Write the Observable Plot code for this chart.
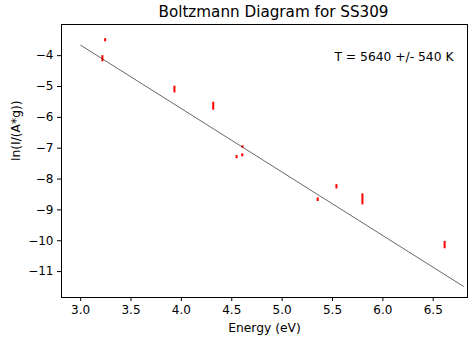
<!DOCTYPE html>
<html>
<head>
<meta charset="utf-8">
<script src="https://cdn.jsdelivr.net/npm/d3@7"></script>
<script src="https://cdn.jsdelivr.net/npm/@observablehq/plot@0.6"></script>
<style>
  html, body { margin: 0; padding: 0; background: #fff; }
</style>
</head>
<body>
<div id="chart"></div>
<script>
// Line energies (eV)
const energy = [3.216, 3.243, 3.931, 4.316, 4.548, 4.604, 4.607, 5.353, 5.539, 5.797, 6.613];
// ln(I/(A*g)) values
const lnValue = [-4.10, -3.50, -5.10, -5.64, -7.29, -7.23, -6.96, -8.67, -8.25, -8.66, -10.14];
// error half-widths
const lnError = [0.10, 0.05, 0.11, 0.13, 0.05, 0.05, 0.04, 0.06, 0.07, 0.18, 0.12];

// fitted line endpoints
const fitEnergy = [3.0, 6.8];
const fitLn = [-3.66, -11.48];

const xTicks = [3.0, 3.5, 4.0, 4.5, 5.0, 5.5, 6.0, 6.5];
const yTicks = [-4, -5, -6, -7, -8, -9, -10, -11];

const titleText = "Boltzmann Diagram for SS309";
const annotation = "T = 5640 +/- 540 K";
const xLabel = "Energy (eV)";
const yLabel = "ln(I/(A*g))";

const points = energy.map((e, i) => ({e, v: lnValue[i], lo: lnValue[i] - lnError[i], hi: lnValue[i] + lnError[i]}));
const fit = fitEnergy.map((e, i) => ({e, v: fitLn[i]}));

const chart = Plot.plot({
  width: 473,
  height: 343,
  marginLeft: 61,
  marginRight: 6,
  marginTop: 24,
  marginBottom: 46,
  style: {fontFamily: "DejaVu Sans", fontSize: "12px", color: "#000", background: "#fff"},
  x: {domain: [2.81, 6.84], ticks: xTicks, tickFormat: d3.format(".1f"), label: null, tickSize: 4, tickPadding: 4},
  y: {domain: [-11.84, -2.99], ticks: yTicks, tickFormat: d => d3.format("d")(d), label: null, tickSize: 4, tickPadding: 4},
  marks: [
    Plot.ruleX(points, {x: "e", y1: "lo", y2: "hi", stroke: "#ff0000", strokeWidth: 2}),
    Plot.line(fit, {x: "e", y: "v", stroke: "#000", strokeWidth: 0.6}),
    Plot.frame({stroke: "#000", strokeWidth: 1}),
    Plot.text([titleText], {frameAnchor: "top", lineAnchor: "middle", dx: 9, dy: -12, fontSize: 15.2, fill: "#000"}),
    Plot.text([annotation], {frameAnchor: "top-right", lineAnchor: "middle", textAnchor: "end", dx: -14, dy: 33, fontSize: 12.3, fill: "#000"}),
    Plot.text([xLabel], {frameAnchor: "bottom", lineAnchor: "middle", dy: 31, fontSize: 12.3, fill: "#000"}),
    Plot.text([yLabel], {frameAnchor: "left", dx: -45, rotate: -90, fontSize: 12.3, fill: "#000"})
  ]
});
document.getElementById("chart").appendChild(chart);
</script>
</body>
</html>
